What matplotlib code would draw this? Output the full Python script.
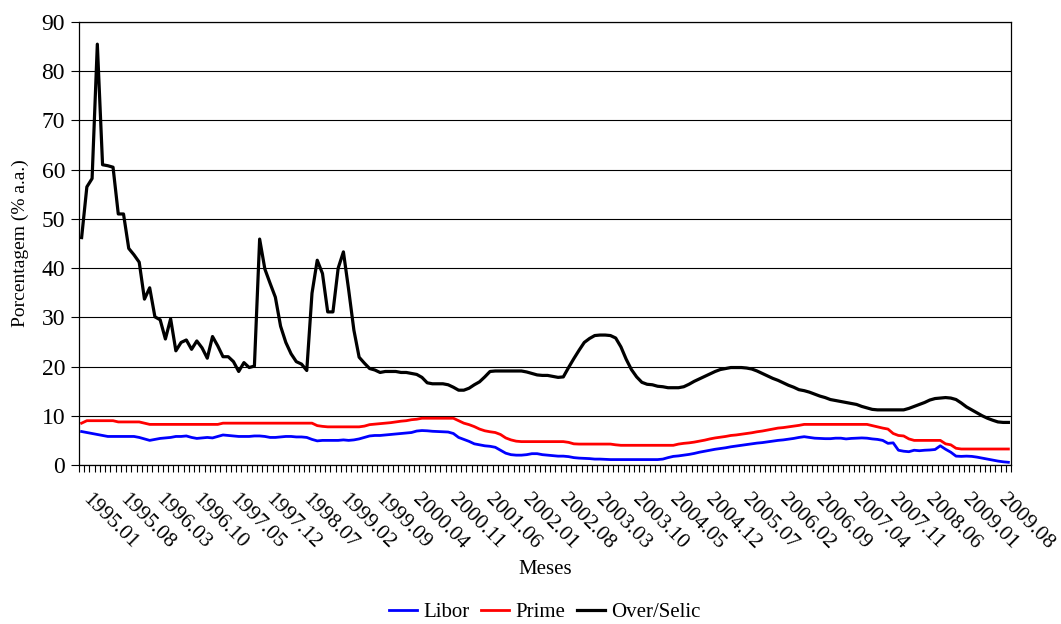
import matplotlib
matplotlib.use("Agg")
import matplotlib.pyplot as plt
import numpy as np

plt.rcParams['font.family'] = ['Liberation Serif', 'DejaVu Serif']

# Monthly series, 1994.11 .. 2009.08 (178 months)
over_selic = [
    46.2, 56.5, 58.2, 85.5, 61.0, 60.8, 60.5, 51.0, 51.0, 44.0,
    42.7, 41.2, 33.7, 36.0, 30.1, 29.5, 25.6, 29.7, 23.2, 24.9,
    25.4, 23.5, 25.2, 23.8, 21.7, 26.1, 24.2, 22.0, 22.0, 21.0,
    19.0, 20.8, 19.8, 20.1, 45.9, 39.8, 36.9, 34.1, 28.2, 24.9,
    22.6, 21.0, 20.5, 19.2, 34.9, 41.6, 38.9, 31.1, 31.1, 40.0,
    43.3, 35.6, 27.4, 21.9, 20.7, 19.6, 19.3, 18.8, 19.0, 19.0,
    19.0, 18.8, 18.8, 18.6, 18.4, 17.8, 16.7, 16.5, 16.5, 16.5,
    16.3, 15.8, 15.2, 15.2, 15.6, 16.3, 16.9, 17.9, 19.0, 19.1,
    19.1, 19.1, 19.1, 19.1, 19.1, 18.9, 18.6, 18.3, 18.2, 18.2,
    18.0, 17.8, 17.9, 19.8, 21.6, 23.3, 24.9, 25.7, 26.3, 26.4,
    26.4, 26.3, 25.8, 24.0, 21.5, 19.4, 17.9, 16.8, 16.4, 16.3,
    16.0, 15.9, 15.7, 15.7, 15.7, 15.9, 16.4, 17.0, 17.5, 18.0,
    18.5, 19.0, 19.4, 19.6, 19.8, 19.8, 19.8, 19.7, 19.5, 19.1,
    18.6, 18.1, 17.6, 17.2, 16.7, 16.2, 15.8, 15.3, 15.1, 14.8,
    14.4, 14.0, 13.7, 13.3, 13.1, 12.9, 12.7, 12.5, 12.3, 11.9,
    11.6, 11.3, 11.2, 11.2, 11.2, 11.2, 11.2, 11.2, 11.5, 11.9,
    12.3, 12.7, 13.2, 13.5, 13.6, 13.7, 13.6, 13.3, 12.6, 11.8,
    11.2, 10.6, 10.0, 9.5, 9.1, 8.75, 8.65, 8.65,
]

prime = [
    8.5, 9.0, 9.0, 9.0, 9.0, 9.0, 9.0, 8.75, 8.75, 8.75,
    8.75, 8.75, 8.5, 8.25, 8.25, 8.25, 8.25, 8.25, 8.25, 8.25,
    8.25, 8.25, 8.25, 8.25, 8.25, 8.25, 8.25, 8.5, 8.5, 8.5,
    8.5, 8.5, 8.5, 8.5, 8.5, 8.5, 8.5, 8.5, 8.5, 8.5,
    8.5, 8.5, 8.5, 8.5, 8.5, 8.0, 7.85, 7.75, 7.75, 7.75,
    7.75, 7.75, 7.75, 7.75, 7.9, 8.2, 8.3, 8.4, 8.5, 8.6,
    8.75, 8.9, 9.0, 9.2, 9.3, 9.5, 9.5, 9.5, 9.5, 9.5,
    9.5, 9.5, 9.0, 8.5, 8.2, 7.8, 7.3, 6.95, 6.75, 6.6,
    6.2, 5.5, 5.1, 4.84, 4.75, 4.75, 4.75, 4.75, 4.75, 4.75,
    4.75, 4.75, 4.75, 4.6, 4.3, 4.25, 4.25, 4.25, 4.25, 4.25,
    4.25, 4.25, 4.1, 4.0, 4.0, 4.0, 4.0, 4.0, 4.0, 4.0,
    4.0, 4.0, 4.0, 4.0, 4.25, 4.4, 4.5, 4.65, 4.85, 5.05,
    5.3, 5.5, 5.65, 5.8, 6.0, 6.1, 6.25, 6.4, 6.55, 6.75,
    6.9, 7.1, 7.3, 7.5, 7.6, 7.75, 7.9, 8.05, 8.25, 8.25,
    8.25, 8.25, 8.25, 8.25, 8.25, 8.25, 8.25, 8.25, 8.25, 8.25,
    8.25, 8.0, 7.75, 7.5, 7.3, 6.4, 6.0, 5.9, 5.3, 5.0,
    5.0, 5.0, 5.0, 5.0, 5.0, 4.3, 4.1, 3.4, 3.25, 3.25,
    3.25, 3.25, 3.25, 3.25, 3.25, 3.25, 3.25, 3.25,
]

libor = [
    6.8, 6.6, 6.4, 6.2, 6.0, 5.8, 5.8, 5.8, 5.8, 5.8,
    5.8, 5.6, 5.3, 5.0, 5.2, 5.4, 5.5, 5.6, 5.8, 5.8,
    5.9, 5.6, 5.4, 5.5, 5.6, 5.5, 5.8, 6.1, 6.0, 5.9,
    5.8, 5.8, 5.8, 5.9, 5.9, 5.8, 5.6, 5.6, 5.7, 5.8,
    5.8, 5.7, 5.7, 5.6, 5.2, 4.9, 5.0, 5.0, 5.0, 5.0,
    5.1, 5.0, 5.1, 5.3, 5.6, 5.9, 6.0, 6.0, 6.1, 6.2,
    6.3, 6.4, 6.5, 6.6, 6.9, 7.0, 6.95, 6.85, 6.8, 6.75,
    6.7, 6.4, 5.6, 5.2, 4.8, 4.3, 4.1, 3.9, 3.8, 3.6,
    3.0, 2.4, 2.1, 2.0, 2.0, 2.1, 2.3, 2.3, 2.1, 2.0,
    1.9, 1.8, 1.8, 1.7, 1.5, 1.4, 1.35, 1.3, 1.2, 1.2,
    1.15, 1.1, 1.1, 1.1, 1.1, 1.1, 1.1, 1.1, 1.1, 1.1,
    1.1, 1.2, 1.5, 1.75, 1.85, 2.0, 2.15, 2.35, 2.6, 2.8,
    3.0, 3.2, 3.35, 3.5, 3.7, 3.85, 4.0, 4.15, 4.3, 4.45,
    4.55, 4.7, 4.85, 5.0, 5.1, 5.25, 5.4, 5.6, 5.75, 5.6,
    5.45, 5.4, 5.35, 5.35, 5.45, 5.45, 5.3, 5.4, 5.45, 5.5,
    5.45, 5.3, 5.2, 5.0, 4.4, 4.5, 3.0, 2.8, 2.7, 3.0,
    2.9, 3.0, 3.05, 3.15, 3.9, 3.2, 2.6, 1.8, 1.75, 1.8,
    1.75, 1.6, 1.4, 1.2, 1.0, 0.8, 0.65, 0.55,
]

# Month labels 1994.11 .. 2009.08
months = []
y, m = 1994, 11
for _ in range(len(over_selic)):
    months.append(f"{y}.{m:02d}")
    m += 1
    if m > 12:
        m = 1
        y += 1

label_step = 7
label_start = months.index("1995.01")

fig = plt.figure(figsize=(10.61, 6.24), dpi=100)
ax = fig.add_axes([79/1061, 1 - 465/624, (1011-79)/1061, (465-22)/624])

x = np.arange(len(months))
ax.plot(x, libor, color='#0000ff', lw=2.0, label='Libor', solid_joinstyle='round')
ax.plot(x, prime, color='#ff0000', lw=2.0, label='Prime', solid_joinstyle='round')
ax.plot(x, over_selic, color='#000000', lw=2.3, label='Over/Selic', solid_joinstyle='round')

ax.set_xlim(-0.5, len(months) - 0.5)
ax.set_ylim(0, 90)
ax.set_yticks(np.arange(0, 91, 10))
ax.yaxis.grid(True, color='black', lw=0.8)
ax.set_axisbelow(True)
for s in ax.spines.values():
    s.set_color('black')
    s.set_linewidth(0.9)

# minor ticks at category boundaries, labels every 7 months
ax.set_xticks(np.arange(-0.5, len(months), 1.0), minor=True)
lab_idx = list(range(label_start, len(months), label_step))
ax.set_xticks(lab_idx)
ax.set_xticklabels([months[i] for i in lab_idx], rotation=-45, ha='left', va='top',
                   rotation_mode='anchor', fontsize=15.5)
ax.tick_params(axis='x', which='major', length=0, pad=18)
ax.tick_params(axis='x', which='minor', length=5, width=0.8, direction='out')
ax.tick_params(axis='y', length=6, width=0.8, direction='out', labelsize=17, pad=4)

ax.set_ylabel('Porcentagem (% a.a.)', fontsize=14, labelpad=9)
fig.text(545/1061, 1 - 569/624, 'Meses', ha='center', va='center', fontsize=15)

fig.legend(loc='center', bbox_to_anchor=(545/1061, 1 - 612/624), ncol=3, frameon=False,
           fontsize=15, handlelength=1.35, handletextpad=0.3, columnspacing=0.55)

fig.savefig('out.png', dpi=100)
